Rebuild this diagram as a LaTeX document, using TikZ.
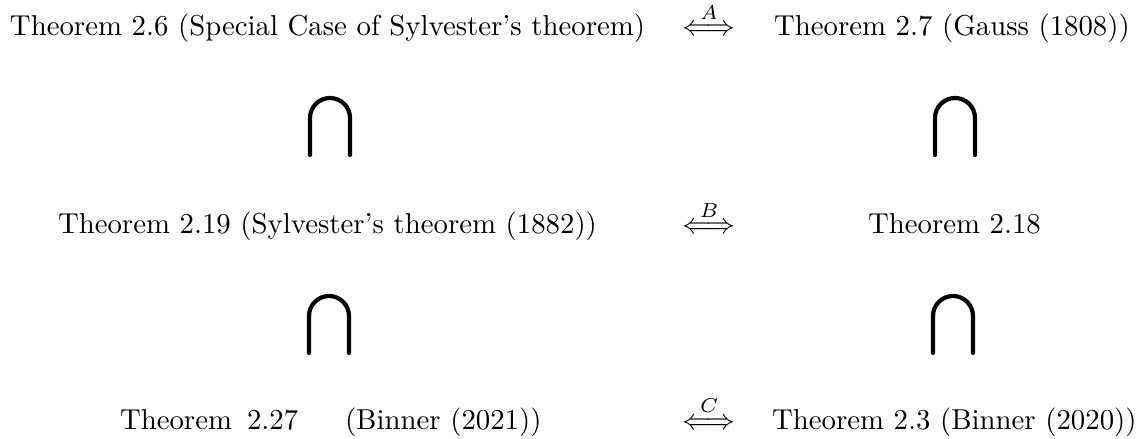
\documentclass[tikz,border=0pt]{standalone}
\usepackage{amsmath}
\begin{document}
\begin{tikzpicture}[x=0.3472pt,y=-0.3472pt,
  txt/.style={anchor=base west,inner sep=0pt,outer sep=0pt},
  eqv/.style={anchor=base,inner sep=0pt,outer sep=0pt},
  capsym/.style={line width=4.2pt*0.3472,line cap=round}]
\useasboundingbox (0,0) rectangle (1140,439);
% row 1
\node[txt] (t26) at (10,36) {Theorem 2.6 (Special Case of Sylvester's theorem)};
\node[eqv] (eA) at (709,36) {$\stackrel{A}{\Longleftrightarrow}$};
\node[txt] (t27) at (774,36) {Theorem 2.7 (Gauss (1808))};
% row 2
\node[txt] (t219) at (58,234) {Theorem 2.19 (Sylvester's theorem (1882))};
\node[eqv] (eB) at (709,234) {$\stackrel{B}{\Longleftrightarrow}$};
\node[txt] (t218) at (868,234) {Theorem 2.18};
% row 3
\node[txt] (t227a) at (120,429) {Theorem};
\node[txt] (t227b) at (247,429) {2.27};
\node[txt] (t227c) at (345,429) {(Binner (2021))};
\node[eqv] (eC) at (709,429) {$\stackrel{C}{\Longleftrightarrow}$};
\node[txt] (t23) at (772,429) {Theorem 2.3 (Binner (2020))};
% cap symbols
\foreach \cx/\ty/\by in {330/98/155, 955/98/155, 329/296/353, 953/296/353}{
  \draw[capsym] (\cx-20,\by) -- (\cx-20,\ty+20) arc[start angle=180,end angle=360,radius=20] -- (\cx+20,\by);
}
\end{tikzpicture}
\end{document}
